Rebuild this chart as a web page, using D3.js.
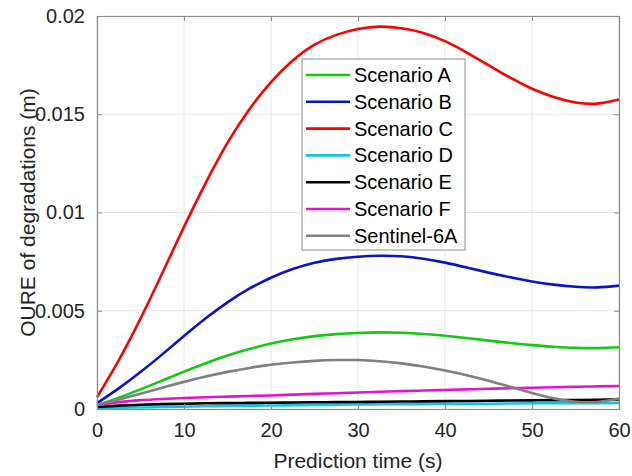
<!DOCTYPE html>
<html>
<head>
<meta charset="utf-8">
<script src="https://cdn.jsdelivr.net/npm/d3@7"></script>
<style>
  html, body { margin: 0; padding: 0; background: #fff; }
  svg { display: block; font-family: "Liberation Sans", Arial, sans-serif; }
</style>
</head>
<body>
<svg id="chart" width="632" height="476"></svg>
<script>
// Prediction time samples (s)
const times = [0, 2.5, 5, 7.5, 10, 12.5, 15, 17.5, 20, 22.5, 25, 27.5, 30,
               32.5, 35, 37.5, 40, 42.5, 45, 47.5, 50, 52.5, 55, 57.5, 60];

// OURE of degradations (m) per scenario
const scenarioA = [0.0002, 0.00058, 0.001, 0.00145, 0.0019, 0.00233, 0.00272, 0.00305, 0.00333, 0.00355,
                   0.00371, 0.00381, 0.00387, 0.0039, 0.00388, 0.00382, 0.00373, 0.00361, 0.00348, 0.00336,
                   0.00325, 0.00317, 0.00311, 0.0031, 0.00314];
const scenarioB = [0.0003, 0.00105, 0.00188, 0.00278, 0.00372, 0.00462, 0.00543, 0.00612, 0.00668, 0.00712,
                   0.00744, 0.00764, 0.00775, 0.0078, 0.00777, 0.00765, 0.00745, 0.0072, 0.00694, 0.0067,
                   0.00649, 0.00633, 0.00622, 0.00619, 0.00628];
const scenarioC = [0.0006, 0.00248, 0.0046, 0.00691, 0.00927, 0.01151, 0.01354, 0.01524, 0.01664, 0.01774,
                   0.01854, 0.01904, 0.01934, 0.01946, 0.01938, 0.01914, 0.01872, 0.01814, 0.0175, 0.01686,
                   0.0163, 0.01588, 0.0156, 0.01554, 0.01575];
const scenarioD = [0.00003, 0.00006, 0.00008, 0.0001, 0.00012, 0.00014, 0.00015, 0.00017, 0.00018, 0.00019,
                   0.0002, 0.00022, 0.00023, 0.00024, 0.00024, 0.00025, 0.00026, 0.00027, 0.00027, 0.00028,
                   0.00029, 0.00029, 0.0003, 0.0003, 0.00031];
const scenarioE = [0.0001, 0.00017, 0.00022, 0.00025, 0.00027, 0.00029, 0.0003, 0.00031, 0.00032, 0.00033,
                   0.00034, 0.00035, 0.00036, 0.00037, 0.00038, 0.00039, 0.0004, 0.00041, 0.00042, 0.00043,
                   0.00044, 0.00045, 0.00046, 0.00047, 0.00049];
const scenarioF = [0.0002, 0.00035, 0.00045, 0.00051, 0.00056, 0.0006, 0.00063, 0.00066, 0.00069, 0.00073,
                   0.00077, 0.0008, 0.00084, 0.00088, 0.00091, 0.00094, 0.00097, 0.001, 0.00103, 0.00106,
                   0.00108, 0.00111, 0.00113, 0.00115, 0.00117];
const sentinel6A = [0.0002, 0.00048, 0.00078, 0.00108, 0.00138, 0.00165, 0.00189, 0.00209, 0.00225, 0.00237,
                    0.00245, 0.00249, 0.00249, 0.00243, 0.00232, 0.00216, 0.00196, 0.00172, 0.00144, 0.00113,
                    0.00082, 0.00054, 0.00037, 0.00036, 0.00053];

const seriesNames = ["Scenario A", "Scenario B", "Scenario C", "Scenario D", "Scenario E", "Scenario F", "Sentinel-6A"];
const seriesValues = [scenarioA, scenarioB, scenarioC, scenarioD, scenarioE, scenarioF, sentinel6A];
const seriesColors = ["#14c814", "#0a14c8", "#ff0000", "#14c3e6", "#000000", "#e614c8", "#808080"];

const xTicks = [0, 10, 20, 30, 40, 50, 60];
const yTicks = [0, 0.005, 0.01, 0.015, 0.02];
const yTickLabels = ["0", "0.005", "0.01", "0.015", "0.02"];

const svg = d3.select("#chart");
const W = 632, H = 476;
const margin = { left: 97, top: 16, right: W - 619, bottom: H - 409 };
const x = d3.scaleLinear().domain([0, 60]).range([margin.left, W - margin.right]);
const y = d3.scaleLinear().domain([0, 0.02]).range([H - margin.bottom, margin.top]);

// grid
const grid = svg.append("g");
grid.selectAll("line.gx").data(xTicks).join("line")
  .attr("x1", d => x(d)).attr("x2", d => x(d))
  .attr("y1", y(0)).attr("y2", y(0.02))
  .attr("stroke", "#e6e6e6").attr("stroke-width", 1);
grid.selectAll("line.gy").data(yTicks).join("line")
  .attr("y1", d => y(d)).attr("y2", d => y(d))
  .attr("x1", x(0)).attr("x2", x(60))
  .attr("stroke", "#e6e6e6").attr("stroke-width", 1);

// curves
const line = d3.line()
  .x((d, i) => x(times[i]))
  .y(d => y(d))
  .curve(d3.curveNatural);
const plot = svg.append("g");
seriesValues.forEach((vals, k) => {
  plot.append("path")
    .attr("d", line(vals))
    .attr("fill", "none")
    .attr("stroke", seriesColors[k])
    .attr("stroke-width", 2.6)
    .attr("stroke-linejoin", "round");
});

// axes (inward ticks, boxed)
const axisColor = "#8c8c8c";
const xAxis = svg.append("g").attr("transform", `translate(0,${y(0)})`)
  .call(d3.axisBottom(x).tickValues(xTicks).tickSize(-5).tickPadding(14).tickFormat(d3.format("d")));
const yAxis = svg.append("g").attr("transform", `translate(${x(0)},0)`)
  .call(d3.axisLeft(y).tickValues(yTicks).tickSize(-5).tickPadding(12).tickFormat((d, i) => yTickLabels[i]));
const xTop = svg.append("g").attr("transform", `translate(0,${y(0.02)})`)
  .call(d3.axisTop(x).tickValues(xTicks).tickSize(-5).tickFormat(""));
const yRight = svg.append("g").attr("transform", `translate(${x(60)},0)`)
  .call(d3.axisRight(y).tickValues(yTicks).tickSize(-5).tickFormat(""));
[xAxis, yAxis, xTop, yRight].forEach(g => {
  g.select(".domain").attr("stroke", axisColor).attr("stroke-width", 1.2);
  g.selectAll(".tick line").attr("stroke", axisColor);
  g.selectAll(".tick text").attr("fill", "#262626").attr("font-size", 20)
    .attr("font-family", "Liberation Sans, Arial, sans-serif");
});

// axis titles
svg.append("text").attr("x", (x(0) + x(60)) / 2).attr("y", 468)
  .attr("text-anchor", "middle").attr("font-size", 21).attr("fill", "#262626")
  .text("Prediction time (s)");
svg.append("text")
  .attr("transform", `translate(35,${(y(0) + y(0.02)) / 2}) rotate(-90)`)
  .attr("text-anchor", "middle").attr("font-size", 21).attr("fill", "#262626")
  .text("OURE of degradations (m)");

// legend
const lg = svg.append("g");
const lgX = 302, lgY = 59, lgW = 163, lgH = 191, rowH = 26.8, firstRow = 75;
lg.append("rect").attr("x", lgX).attr("y", lgY).attr("width", lgW).attr("height", lgH)
  .attr("fill", "#fff").attr("stroke", "#a0a0a0").attr("stroke-width", 1.2);
seriesNames.forEach((name, k) => {
  const cy = firstRow + k * rowH;
  lg.append("line").attr("x1", 306).attr("x2", 350).attr("y1", cy).attr("y2", cy)
    .attr("stroke", seriesColors[k]).attr("stroke-width", 2.6);
  lg.append("text").attr("x", 354).attr("y", cy).attr("dy", "0.35em")
    .attr("font-size", 20).attr("fill", "#000").text(name);
});
</script>
</body>
</html>
